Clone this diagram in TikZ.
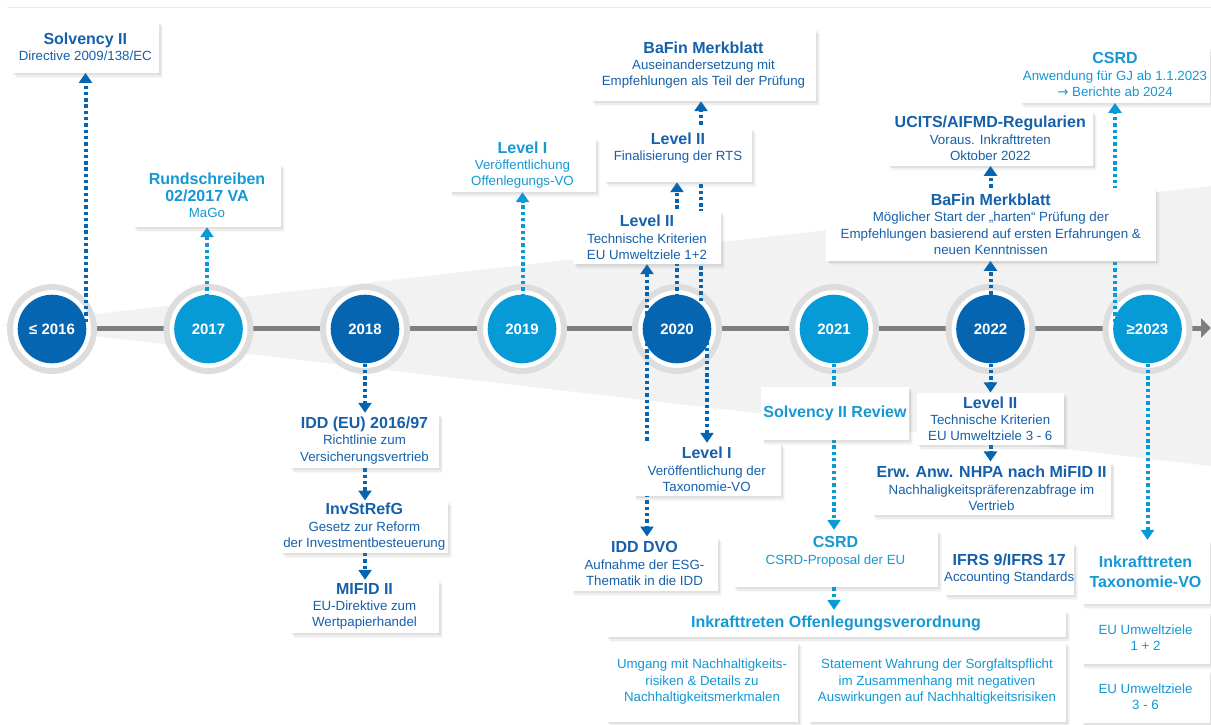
\documentclass[tikz,border=0pt]{standalone}
\usepackage{fontspec}
\setmainfont{Liberation Sans}
\newfontfamily\arrowfont{DejaVu Sans}
\usetikzlibrary{arrows.meta,shadows}
\definecolor{dk}{HTML}{0565B0}
\definecolor{lt}{HTML}{069AD7}
\definecolor{dktext}{HTML}{1660AA}
\definecolor{lttext}{HTML}{1598D3}
\definecolor{ringgray}{HTML}{DDDDDD}
\definecolor{wedgegray}{HTML}{F2F2F2}
\definecolor{tlgray}{HTML}{7F7F7F}
\newcommand\ttl{\fontsize{16}{17}\selectfont\bfseries}
\pgfdeclarelayer{bg}
\pgfdeclarelayer{mid}
\pgfsetlayers{bg,mid,main}
\begin{document}
\begin{tikzpicture}[x=1pt,y=-1pt,
  box/.style={fill=white, inner sep=0pt, align=center, font=\fontsize{13.3}{16.3}\selectfont,
    drop shadow={shadow xshift=4pt,shadow yshift=-5pt,opacity=0.05},
    drop shadow={shadow xshift=3pt,shadow yshift=-3.8pt,opacity=0.08},
    drop shadow={shadow xshift=1.8pt,shadow yshift=-2.4pt,opacity=0.12}},
  dkbox/.style={box,text=dktext},
  ltbox/.style={box,text=lttext},
  yr/.style={circle, inner sep=0pt, minimum size=68.6pt, text=white, font=\fontsize{15}{15}\selectfont\bfseries},
  ring/.style={circle, draw=ringgray, line width=6pt, fill=white, minimum size=84pt, inner sep=0pt},
  dots/.style={line width=4pt, dash pattern=on 3.4pt off 2.9pt, -{Triangle[width=13pt,length=10pt]}},
  dotsboth/.style={line width=4pt, dash pattern=on 3.4pt off 2.9pt, {Triangle[width=13pt,length=10pt]}-{Triangle[width=13pt,length=10pt]}},
]
\useasboundingbox (0,0) rectangle (1211,724);
% ---------------- boxes ----------------
\node[dkbox, minimum width=147.3pt, minimum height=52pt] (solv) at (85.3,46.7) {{\ttl Solvency II}\\Directive 2009/138/EC};
\node[ltbox, minimum width=148pt, minimum height=63pt] (rund) at (207,195.5) {{\ttl Rundschreiben}\\{\ttl 02/2017 VA}\\MaGo};
\node[dkbox, minimum width=149pt, minimum height=55pt] (idd) at (364.5,440.5) {{\ttl IDD (EU) 2016/97}\\Richtlinie zum\\Versicherungsvertrieb};
\node[dkbox, minimum width=167.3pt, minimum height=52pt] (invst) at (364.3,526.7) {{\ttl InvStRefG}\\Gesetz zur Reform\\der Investmentbesteuerung};
\node[dkbox, minimum width=149pt, minimum height=53pt] (mifid) at (364.5,606.5) {{\ttl MIFID II}\\EU-Direktive zum\\Wertpapierhandel};
\node[ltbox, minimum width=147pt, minimum height=54pt] (lvlioff) at (522.5,165) {{\ttl Level I}\\Veröffentlichung\\Offenlegungs-VO};
\node[dkbox, minimum width=225pt, minimum height=72pt] (bafinA) at (703.5,65) {{\ttl BaFin Merkblatt}\\Auseinandersetzung mit\\Empfehlungen als Teil der Prüfung};
\node[dkbox, minimum width=148pt, minimum height=54pt] (rts) at (678,155) {{\ttl Level II}\\Finalisierung der RTS\\\mbox{}};
\node[dkbox, minimum width=148pt, minimum height=53pt] (techA) at (647,237.5) {{\ttl Level II}\\Technische Kriterien\\EU Umweltziele 1+2};
\node[dkbox, minimum width=148pt, minimum height=53pt] (tax) at (706.7,469.5) {{\ttl Level I}\\Veröffentlichung der\\Taxonomie-VO};
\node[dkbox, minimum width=147pt, minimum height=54pt] (dvo) at (644.5,563.7) {{\ttl IDD DVO}\\Aufnahme der ESG-\\Thematik in die IDD};
\node[ltbox, minimum width=148pt, minimum height=53.3pt] (rev) at (835,413.3) {{\ttl Solvency II Review}};
\node[ltbox, minimum width=205pt, minimum height=57pt] (csrdA) at (835.5,558.5) {{\ttl CSRD}\\CSRD-Proposal der EU\\\mbox{}};
\node[ltbox, minimum width=460pt, minimum height=27pt] (ikoff) at (836,623.5) {{\ttl Inkrafttreten Offenlegungsverordnung}};
\node[ltbox, minimum width=192pt, minimum height=80pt] (subL) at (702,681.7) {Umgang mit Nachhaltigkeits-\\risiken \& Details zu\\Nachhaltigkeitsmerkmalen};
\node[ltbox, minimum width=258pt, minimum height=80pt] (subR) at (937,681.7) {Statement Wahrung der Sorgfaltspflicht\\im Zusammenhang mit negativen\\Auswirkungen auf Nachhaltigkeitsrisiken};
\node[dkbox, minimum width=147.3pt, minimum height=52.3pt] (techB) at (990.3,418.8) {{\ttl Level II}\\Technische Kriterien\\EU Umweltziele 3 - 6};
\node[dkbox, minimum width=239pt, minimum height=53.3pt] (erw) at (991.5,488.3) {{\ttl Erw. Anw. NHPA nach MiFID II}\\Nachhaligkeitspräferenzabfrage im\\Vertrieb};
\node[dkbox, minimum width=125pt, minimum height=52.3pt] (ifrs) at (1009.2,568.8) {{\ttl IFRS 9/IFRS 17}\\Accounting Standards};
\node[ltbox, minimum width=129pt, minimum height=64pt, font=\fontsize{16}{19.5}\selectfont\bfseries] (iktax) at (1145.5,572) {Inkrafttreten\\Taxonomie-VO};
\node[ltbox, minimum width=129pt, minimum height=52pt] (euA) at (1145.5,638) {EU Umweltziele\\1 + 2};
\node[ltbox, minimum width=129pt, minimum height=53pt] (euB) at (1145.5,696.5) {EU Umweltziele\\3 - 6};
\node[dkbox, minimum width=205.3pt, minimum height=54.7pt] (ucits) at (990.3,138.3) {{\ttl UCITS/AIFMD-Regularien}\\Voraus. Inkrafttreten\\Oktober 2022};
\node[dkbox, minimum width=329.7pt, minimum height=72.7pt] (bafinB) at (990.8,224.3) {{\ttl BaFin Merkblatt}\\Möglicher Start der „harten“ Prüfung der\\Empfehlungen basierend auf ersten Erfahrungen \&\\neuen Kenntnissen};
\node[ltbox, minimum width=190pt, minimum height=56pt] (csrdB) at (1115,74.7) {{\ttl CSRD}\\Anwendung für GJ ab 1.1.2023\\{\arrowfont →} Berichte ab 2024};
% ---------------- background: wedge, timeline, circles ----------------
\begin{pgfonlayer}{bg}
\fill[white] (0,0) rectangle (1211,724);
\draw[black!8, line width=0.8pt] (7,7) -- (1211,7);
\fill[wedgegray] (0,325) -- (1211,186) -- (1211,466) -- cycle;
\coordinate (tlstart) at (52,328);
\coordinate (tlend) at (1211,328);
\draw[line width=5pt, tlgray, -{Triangle[width=19pt,length=10pt]}] (tlstart) -- (tlend);
\foreach \n/\x in {16/52,17/208.5,18/365,19/522,20/677,21/834,22/990.5,23/1147.5}{
  \node[ring] (r\n) at (\x,329) {};
}
\node[yr, fill=dk] (y16) at (52,329) {≤ 2016};
\node[yr, fill=lt] (y17) at (208.5,329) {2017};
\node[yr, fill=dk] (y18) at (365,329) {2018};
\node[yr, fill=lt] (y19) at (522,329) {2019};
\node[yr, fill=dk] (y20) at (677,329) {2020};
\node[yr, fill=lt] (y21) at (834,329) {2021};
\node[yr, fill=dk] (y22) at (990.5,329) {2022};
\node[yr, fill=lt] (y23) at (1147.5,329) {≥2023};
\end{pgfonlayer}
% ---------------- connectors ----------------
\begin{pgfonlayer}{mid}
\coordinate (c16) at (85.5,322);
\coordinate (c17) at (207,297);
\coordinate (c19) at (522.5,297);
\coordinate (c20a) at (647,329);
\coordinate (c20b) at (677,297);
\coordinate (c20c) at (701,301);
\coordinate (c20d) at (707,329);
\coordinate (c23a) at (1115,322);
\draw[dots, dk] (c16) -- (c16 |- solv.south);
\draw[dots, lt] (c17) -- (c17 |- rund.south);
\draw[dots, dk] (y18.south) -- (y18.south |- idd.north);
\draw[dots, dk] (idd.south -| y18.south) -- (y18.south |- invst.north);
\draw[dots, dk] (invst.south -| y18.south) -- (y18.south |- mifid.north);
\draw[dots, lt] (c19) -- (c19 |- lvlioff.south);
\draw[dotsboth, dk] (c20a |- techA.south) -- (c20a |- dvo.north);
\draw[dots, dk] (c20b) -- (c20b |- rts.south);
\draw[dots, dk] (c20c) -- (c20c |- bafinA.south);
\draw[dots, dk] (c20d) -- (c20d |- tax.north);
\draw[dots, lt] (y21.south) -- (y21.south |- csrdA.north);
\draw[dots, lt] (csrdA.south -| y21.south) -- (y21.south |- ikoff.north);
\draw[dots, dk] (y22.north) -- (y22.north |- bafinB.south);
\draw[dots, dk] (bafinB.north -| y22.north) -- (y22.north |- ucits.south);
\draw[dots, dk] (y22.south) -- (y22.south |- techB.north);
\draw[dots, dk] (techB.south -| y22.south) -- (y22.south |- erw.north);
\draw[dots, lt] (c23a) -- (c23a |- csrdB.south);
\draw[dots, lt] (y23.south) -- (y23.south |- iktax.north);
\end{pgfonlayer}
\end{tikzpicture}
\end{document}
